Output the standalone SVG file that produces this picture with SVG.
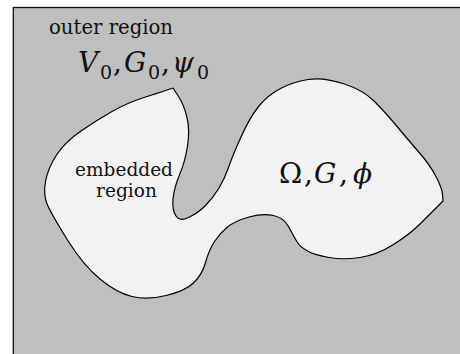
<svg xmlns="http://www.w3.org/2000/svg" width="460" height="354" viewBox="0 0 460 354">
<style>
text{fill:#111;font-family:"DejaVu Serif","Liberation Serif",serif;}
.lbl{font-size:20px;}
.sm{font-size:19px;}
.m{font-size:28px;}
.it{font-style:italic;}
.sub{font-size:19px;font-style:normal;}
.region{fill:#f2f2f2;stroke:#000;stroke-width:1.2;stroke-linejoin:round;}
</style>
<rect x="0" y="0" width="460" height="354" fill="#ffffff"/>
<g id="outer-region">
<rect x="13.3" y="7.5" width="470" height="370" fill="#bfbfbf" stroke="#111" stroke-width="1.3"/>
<text class="lbl" x="49" y="34" textLength="124" lengthAdjust="spacingAndGlyphs">outer region</text>
<text class="m" y="72"><tspan class="it" x="78">V</tspan><tspan class="sub" x="100" y="79">0</tspan><tspan x="113" y="72">,</tspan><tspan class="it" x="124" y="72">G</tspan><tspan class="sub" x="148" y="79">0</tspan><tspan x="161" y="72">,</tspan><tspan class="it" x="172" y="72">ψ</tspan><tspan class="sub" x="197" y="79">0</tspan></text>
</g>
<g id="embedded-region">
<path class="region" d="M 173,88 L 165.5,90.5 Q 158,93 142.5,98 Q 127,103 112,111.5 Q 97,120 81,131 Q 65,142 56.5,155 Q 48,168 45.5,181.5 Q 43,195 47.5,205 Q 52,215 67.5,240 Q 83,265 100,279 Q 117,293 132,296.5 Q 147,300 166,295.5 Q 185,291 193.5,283 Q 202,275 205.5,262.5 Q 209,250 214.5,241.5 Q 220,233 227.5,227 Q 235,221 249,217 Q 263,213 273.5,215.5 Q 284,218 288.5,226.5 Q 293,235 296.5,241 Q 300,247 307.5,251 Q 315,255 329,257.5 Q 343,260 360,257.5 Q 377,255 393.5,244.5 Q 410,234 420,224 Q 430,214 436.5,207.5 L 443,201 L 442.5,194.5 Q 442,188 436,176.5 Q 430,165 420,153.5 Q 410,142 397.5,127 Q 385,112 374,101 Q 363,90 343,83.5 Q 323,77 308,79.5 Q 293,82 280.5,88.5 Q 268,95 259,106 Q 250,117 241,137 Q 232,157 228.5,167.5 Q 225,178 219,188 Q 213,198 205.5,205.5 Q 198,213 189.5,217 Q 180,222 176,216 Q 172,210 173,199 Q 174,188 179.5,175 Q 185,162 187.5,146 Q 190,130 187,117.5 Q 184,105 178.5,96.5 L 173,88 Z"/>
<text class="sm" x="75" y="176" textLength="98" lengthAdjust="spacingAndGlyphs">embedded</text>
<text class="sm" x="96" y="197" textLength="61" lengthAdjust="spacingAndGlyphs">region</text>
<text class="m" y="183"><tspan x="279">Ω</tspan><tspan x="304">,</tspan><tspan class="it" x="314">G</tspan><tspan x="339">,</tspan><tspan class="it" x="353">ϕ</tspan></text>
</g>
<g id="connectors"/>
</svg>
